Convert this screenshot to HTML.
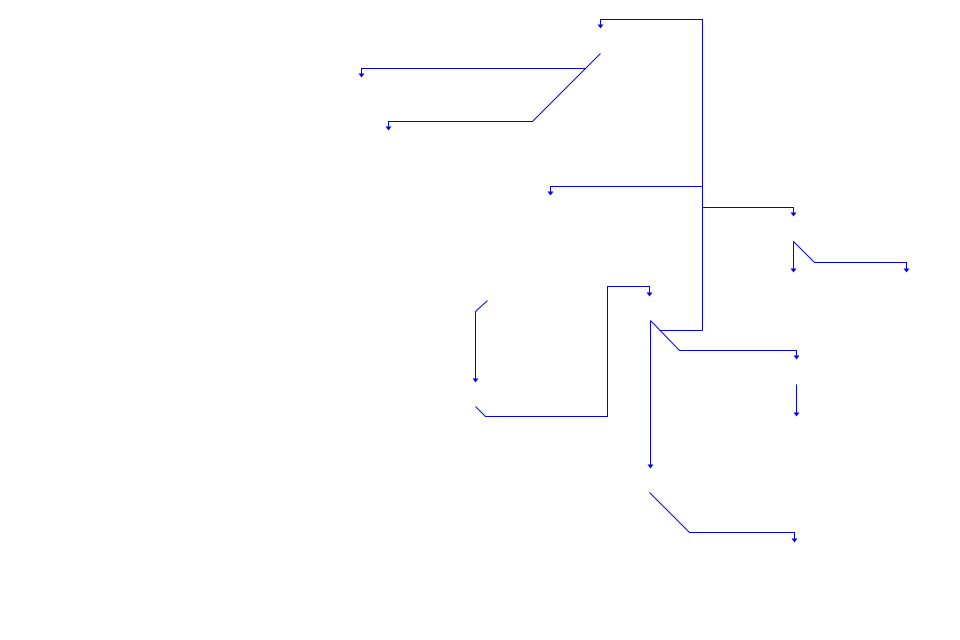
<!DOCTYPE html>
<html><head><meta charset="utf-8"><style>html,body{margin:0;padding:0;background:#fff}svg{display:block}</style></head>
<body>
<svg width="960" height="640" viewBox="0 0 960 640" xmlns="http://www.w3.org/2000/svg">
<g fill="none" stroke="#0000ee" stroke-width="1" transform="translate(0.5,0.5)">
<polyline points="702,330 702,19 600,19 600,24"/>
<polyline points="702,330 659,330"/>
<polyline points="702,186 550,186 550,191"/>
<polyline points="702,207 793,207 793,212"/>
<polyline points="600,53 532,121 388,121 388,126"/>
<polyline points="585,68 361,68 361,73"/>
<polyline points="793,241 793,268"/>
<polyline points="793,241 814,262 906,262 906,268"/>
<polyline points="487,300 475,311 475,378"/>
<polyline points="475,406 485,416 607,416 607,286 649,286 649,292"/>
<polyline points="650,320 650,464"/>
<polyline points="650,320 679,350 796,350 796,355"/>
<polyline points="796,384 796,412"/>
<polyline points="649,492 689,532 794,532 794,538"/>
</g>
<g fill="#0000ee" transform="translate(0.5,0.5)">
<polygon points="597,24 603,24 600,28"/>
<polygon points="547,191 553,191 550,195"/>
<polygon points="790,212 796,212 793,216"/>
<polygon points="385,126 391,126 388,130"/>
<polygon points="358,73 364,73 361,77"/>
<polygon points="790,268 796,268 793,272"/>
<polygon points="903,268 909,268 906,272"/>
<polygon points="472,378 478,378 475,382"/>
<polygon points="646,292 652,292 649,296"/>
<polygon points="647,464 653,464 650,468"/>
<polygon points="793,355 799,355 796,359"/>
<polygon points="793,412 799,412 796,416"/>
<polygon points="791,538 797,538 794,542"/>
</g>
</svg>
</body></html>
